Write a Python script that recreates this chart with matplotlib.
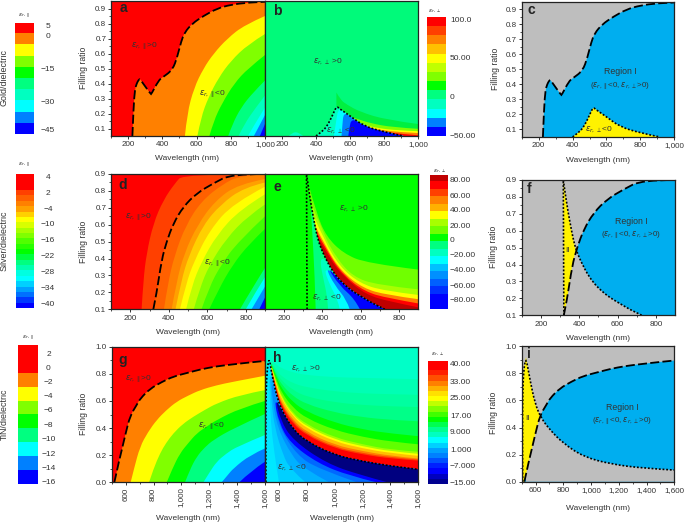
import numpy as np
import matplotlib
matplotlib.use("Agg")
import matplotlib.pyplot as plt
from matplotlib.patches import PathPatch
from matplotlib.path import Path
from matplotlib.ticker import FixedLocator, FixedFormatter

plt.rcParams["font.family"] = ["Liberation Sans", "DejaVu Sans"]

W, H = 685, 524
TEXT = "#333333"
GRAY = "#BEBEBE"
SKY = "#00AEEF"
LEMON = "#FFF200"

# ============================================
# DATA - GOLD
# ============================================

gold_zero_x = [225, 232, 240, 250, 262, 270, 278, 332, 336, 378, 400, 460, 488, 510, 530, 575, 640, 720, 800, 900, 1000]
gold_zero_y = [0.05, 0.25, 0.36, 0.40, 0.425, 0.43, 0.415, 0.33, 0.33, 0.42, 0.44, 0.49, 0.58, 0.68, 0.74, 0.80, 0.85, 0.90, 0.925, 0.94, 0.945]

gold_par_bands = [
    ([532, 545, 585, 640, 700, 780, 880, 1000], [0.05, 0.20, 0.37, 0.50, 0.60, 0.70, 0.79, 0.85]),
    ([605, 625, 670, 730, 800, 900, 1000], [0.05, 0.17, 0.31, 0.44, 0.55, 0.66, 0.73]),
    ([675, 700, 750, 820, 900, 1000], [0.05, 0.15, 0.27, 0.40, 0.50, 0.59]),
    ([785, 810, 860, 930, 1000], [0.05, 0.13, 0.24, 0.34, 0.42]),
    ([845, 880, 940, 1000], [0.05, 0.13, 0.23, 0.32]),
    ([900, 930, 1000], [0.05, 0.11, 0.24]),
    ([935, 1000], [0.05, 0.19]),
    ([970, 1000], [0.05, 0.13]),
]
gold_par_colors = ["#FF8000", "#FFFF00", "#80FF00", "#00FF00", "#00FF80", "#00FFC0", "#00FFFF", "#0080FF", "#0000FF"]

gold_perp_x = [400, 430, 460, 490, 515, 525, 535, 560, 600, 680, 795, 915]
gold_perp_y = [0.05, 0.075, 0.107, 0.17, 0.235, 0.245, 0.235, 0.215, 0.184, 0.118, 0.078, 0.05]

gold_perp_pos = [
    ([520, 545, 580, 660, 816, 1000], [0.34, 0.29, 0.26, 0.21, 0.157, 0.13]),
    ([575, 640, 720, 850, 1000], [0.19, 0.165, 0.135, 0.108, 0.098]),
    ([610, 680, 760, 880, 1000], [0.15, 0.125, 0.103, 0.087, 0.082]),
    ([625, 700, 780, 900, 1000], [0.135, 0.108, 0.09, 0.075, 0.07]),
    ([645, 715, 800, 900, 1000], [0.12, 0.095, 0.078, 0.064, 0.055]),
]
gold_perp_pos_colors = ["#00F040", "#80FF00", "#FFFF00", "#FF8000", "#FF0000"]

gold_perp_neg = [
    ([505, 515, 530], [0.05, 0.12, 0.235]),
    ([550, 555, 562], [0.05, 0.12, 0.205]),
    ([590, 595, 610], [0.05, 0.10, 0.17]),
]
gold_perp_neg_colors = ["#00FFFF", "#0080FF", "#0000FF"]

gold_bump_x = [240, 262, 298, 325]
gold_bump_y = [0.05, 0.075, 0.075, 0.05]

# ============================================
# DATA - SILVER
# ============================================

silver_zero_x = [320, 337, 363, 389, 424, 476, 545, 632, 727, 900]
silver_zero_y = [0.10, 0.195, 0.392, 0.50, 0.608, 0.707, 0.786, 0.845, 0.90, 0.90]
silver_cross_x = 382
silver_cross_y = 0.485

silver_par_bands = [
    ([259, 268, 285, 320, 372, 432, 476, 900], [0.10, 0.273, 0.431, 0.608, 0.746, 0.845, 0.90, 0.90]),
    (silver_zero_x, silver_zero_y),
    ([375, 395, 430, 490, 570, 680, 770, 900], [0.10, 0.25, 0.42, 0.60, 0.74, 0.84, 0.89, 0.90]),
    ([415, 440, 480, 550, 640, 760, 900], [0.10, 0.26, 0.43, 0.60, 0.74, 0.84, 0.87]),
    ([435, 465, 505, 580, 670, 790, 900], [0.10, 0.27, 0.42, 0.60, 0.72, 0.82, 0.85]),
    ([458, 490, 530, 614, 735, 900], [0.10, 0.25, 0.38, 0.57, 0.727, 0.825]),
    ([490, 520, 570, 650, 770, 900], [0.10, 0.24, 0.38, 0.54, 0.69, 0.78]),
    ([530, 560, 610, 700, 810, 900], [0.10, 0.22, 0.36, 0.52, 0.65, 0.72]),
    ([570, 610, 670, 760, 900], [0.10, 0.23, 0.36, 0.50, 0.65]),
    ([610, 660, 730, 820, 900], [0.10, 0.22, 0.36, 0.49, 0.575]),
    ([770, 820, 900], [0.10, 0.20, 0.345]),
    ([800, 850, 900], [0.10, 0.20, 0.29]),
    ([830, 900], [0.10, 0.235]),
    ([870, 900], [0.10, 0.17]),
]
silver_par_colors = ["#FF0000", "#FF4000", "#FF6000", "#FF8000", "#FFA000", "#FFD000", "#FFFF00", "#C0FF00",
                     "#80FF00", "#40FF00", "#00FF00", "#00FF80", "#00FFFF", "#0090FF", "#0000FF"]

silver_perp_x = [317, 334, 350, 369, 383, 404, 420, 440, 474, 515, 561, 600, 648, 690, 727]
silver_perp_y = [0.90, 0.766, 0.66, 0.55, 0.49, 0.431, 0.395, 0.35, 0.293, 0.245, 0.204, 0.178, 0.145, 0.12, 0.10]
silver_vert_x = [320, 317]
silver_vert_y = [0.10, 0.90]

silver_perp_pos = [
    ([331, 369, 421, 509, 631, 900], [0.825, 0.667, 0.53, 0.431, 0.372, 0.335]),
    ([343, 404, 474, 561, 683, 900], [0.727, 0.549, 0.402, 0.293, 0.244, 0.218]),
    ([352, 413, 491, 596, 718, 900], [0.658, 0.50, 0.352, 0.254, 0.21, 0.185]),
    ([360, 421, 500, 614, 736, 900], [0.60, 0.46, 0.323, 0.224, 0.185, 0.16]),
    ([369, 430, 509, 622, 745, 900], [0.56, 0.43, 0.303, 0.204, 0.165, 0.135]),
    ([375, 436, 518, 631, 755, 900], [0.53, 0.40, 0.285, 0.185, 0.145, 0.112]),
]
silver_perp_pos_colors = ["#70FF00", "#A8FF00", "#FFFF00", "#FF8000", "#FF0000", "#C00000"]

silver_perp_neg = [
    ([365, 360, 345, 338], [0.10, 0.30, 0.60, 0.73]),
    ([430, 425, 405, 385], [0.10, 0.18, 0.28, 0.40]),
    ([491, 480, 440, 405], [0.10, 0.16, 0.24, 0.35]),
    ([543, 525, 465, 415], [0.10, 0.16, 0.24, 0.35]),
    ([596, 570, 490, 425], [0.10, 0.16, 0.24, 0.35]),
]
silver_perp_neg_colors = ["#00FF80", "#00FFC0", "#00FFFF", "#0080FF", "#0000FF"]

# ============================================
# DATA - TIN
# ============================================

tin_zero_x = [519, 530, 548, 572, 600, 632, 679, 704, 775, 860, 942, 1040, 1134, 1250, 1373, 1500, 1600]
tin_zero_y = [0.0, 0.05, 0.135, 0.238, 0.36, 0.49, 0.57, 0.616, 0.69, 0.74, 0.78, 0.806, 0.832, 0.855, 0.87, 0.885, 0.895]

tin_par_bands = [
    ([636, 660, 703, 760, 823, 890, 966, 1050, 1134, 1250, 1373, 1600], [0.0, 0.10, 0.263, 0.37, 0.46, 0.53, 0.595, 0.64, 0.68, 0.715, 0.742, 0.786]),
    ([768, 800, 847, 890, 942, 1010, 1086, 1170, 1253, 1421, 1600], [0.0, 0.10, 0.214, 0.29, 0.361, 0.43, 0.484, 0.535, 0.582, 0.644, 0.68]),
    ([895, 935, 990, 1050, 1110, 1180, 1253, 1421, 1600], [0.0, 0.10, 0.214, 0.29, 0.361, 0.41, 0.46, 0.545, 0.60]),
    ([1026, 1060, 1110, 1170, 1229, 1373, 1600], [0.0, 0.09, 0.19, 0.26, 0.312, 0.398, 0.504]),
    ([1158, 1200, 1253, 1320, 1397, 1600], [0.0, 0.07, 0.152, 0.21, 0.263, 0.349]),
    ([1289, 1330, 1373, 1493, 1600], [0.0, 0.05, 0.103, 0.201, 0.25]),
    ([1416, 1493, 1600], [0.0, 0.079, 0.152]),
]
tin_par_colors = ["#FFFF00", "#80FF00", "#00FF00", "#00FF80", "#00FFFF", "#0080FF", "#0000FF"]

tin_perp_x = [507, 505, 507, 517, 531, 545, 560, 580, 620, 700, 800, 1000, 1200, 1400, 1600]
tin_perp_y = [0.0, 0.31, 0.68, 0.85, 0.92, 0.82, 0.75, 0.65, 0.53, 0.39, 0.30, 0.20, 0.155, 0.12, 0.095]

tin_cross_x = [531, 560, 596, 637, 704, 800, 944, 1136, 1377, 1600]
tin_cross_y = [0.92, 0.75, 0.579, 0.475, 0.382, 0.283, 0.185, 0.131, 0.099, 0.086]

tin_row_x = [545, 580, 620, 700, 800, 1000, 1200, 1400, 1600]
tin_perp_pos = [
    [0.90, 0.87, 0.84, 0.81, 0.79, 0.775, 0.77, 0.765, 0.76],
    [0.885, 0.83, 0.78, 0.73, 0.70, 0.67, 0.655, 0.65, 0.645],
    [0.88, 0.81, 0.75, 0.68, 0.63, 0.59, 0.57, 0.56, 0.555],
    [0.875, 0.795, 0.72, 0.635, 0.575, 0.515, 0.48, 0.46, 0.45],
    [0.87, 0.78, 0.69, 0.59, 0.52, 0.44, 0.39, 0.36, 0.34],
    [0.865, 0.76, 0.66, 0.55, 0.47, 0.385, 0.335, 0.30, 0.28],
    [0.86, 0.74, 0.635, 0.51, 0.425, 0.33, 0.28, 0.24, 0.225],
    [0.855, 0.73, 0.62, 0.495, 0.41, 0.315, 0.265, 0.228, 0.21],
    [0.85, 0.72, 0.61, 0.485, 0.395, 0.30, 0.25, 0.215, 0.195],
    [0.84, 0.70, 0.585, 0.46, 0.37, 0.275, 0.23, 0.195, 0.175],
    [0.835, 0.69, 0.57, 0.445, 0.355, 0.26, 0.215, 0.185, 0.168],
    [0.83, 0.68, 0.56, 0.43, 0.345, 0.25, 0.205, 0.175, 0.16],
]
tin_perp_pos_colors = ["#00FFB4", "#00FFA0", "#00FF88", "#00FF50", "#00FF00", "#60FF00", "#A0FF00", "#FFFF00",
                       "#FFC000", "#FF8000", "#FF4000", "#FF0000"]

tin_perp_neg = [
    ([600, 585, 570, 545, 535, 530], [0.0, 0.10, 0.20, 0.40, 0.60, 0.80]),
    ([790, 680, 630, 570, 545, 535], [0.0, 0.10, 0.20, 0.40, 0.60, 0.80]),
    ([960, 780, 690, 590, 555, 545], [0.0, 0.10, 0.20, 0.40, 0.60, 0.75]),
    ([1160, 880, 730, 605, 565], [0.0, 0.10, 0.20, 0.40, 0.60]),
    ([1300, 1100, 880, 680, 600, 565], [0.0, 0.05, 0.14, 0.29, 0.44, 0.62]),
    ([1380, 1181, 941, 700, 610, 575], [0.0, 0.054, 0.14, 0.31, 0.46, 0.62]),
]
tin_perp_neg_colors = ["#00D0FF", "#00B0FF", "#0090FF", "#0068FF", "#0000FF", "#000080"]

# ============================================
# DATA - COLOUR BARS
# ============================================

bar_a_colors = ["#FF0000", "#FF8000", "#FFFF00", "#80FF00", "#00FF00", "#00FF80", "#00FFC0", "#00FFFF", "#0080FF", "#0000FF"]
bar_a_labels = ["5", "0", "\u221215", "\u221230", "\u221245"]

bar_b_colors = ["#FF0000", "#FF4000", "#FF8000", "#FFC000", "#FFFF00", "#C0FF00", "#80FF00", "#00FF00", "#00FF80",
                "#00FFC0", "#00FFFF", "#0080FF", "#0000FF"]
bar_b_labels = ["100.0", "50.00", "0", "\u221250.00"]

bar_d_colors = ["#FF0000", "#FF0000", "#FF0000", "#FF4000", "#FF6000", "#FF8000", "#FFA000", "#FFD000", "#FFFF00",
                "#D8FF00", "#A8FF00", "#80FF00", "#50FF00", "#28FF00", "#00FF00", "#00FF40", "#00FF80", "#00FFB0",
                "#00FFE0", "#00FFFF", "#00D0FF", "#00A0FF", "#0070FF", "#0038FF", "#0000FF"]
bar_d_labels = ["4", "2", "\u22124", "\u221210", "\u221216", "\u221222", "\u221228", "\u221234", "\u221240"]

bar_e_colors = ["#C00000", "#FF0000", "#FF4000", "#FF8000", "#FFB000", "#FFFF00", "#A8FF00", "#70FF00", "#00FF00",
                "#00FF80", "#00FFC0", "#00FFFF", "#00C0FF", "#0090FF", "#0060FF", "#0030FF", "#0000FF", "#0000FF"]
bar_e_labels = ["80.00", "60.00", "40.00", "20.00", "0", "\u221220.00", "\u221240.00", "\u221260.00", "\u221280.00"]

bar_g_colors = ["#FF0000", "#FF0000", "#FF8000", "#FFFF00", "#80FF00", "#00FF00", "#00FF80", "#00FFFF", "#0080FF", "#0000FF"]
bar_g_labels = ["2", "0", "\u22122", "\u22124", "\u22126", "\u22128", "\u221210", "\u221212", "\u221214", "\u221216"]

bar_h_colors = ["#FF0000", "#FF0000", "#FF2000", "#FF5000", "#FF8000", "#FFB000", "#FFE000", "#FFFF00", "#C0FF00",
                "#80FF00", "#40FF00", "#00FF00", "#00FF50", "#00FF90", "#00FFC0", "#00FFFF", "#00D0FF", "#00A0FF",
                "#0080FF", "#0050FF", "#0020FF", "#0000FF", "#0000C0", "#000090"]
bar_h_labels = ["40.00", "33.00", "25.00", "17.00", "9.000", "1.000", "\u22127.000", "\u221215.00"]

# ============================================
# LABELS
# ============================================

PAR = r"$\varepsilon_{r,\parallel}$"
PERP = r"$\varepsilon_{r,\perp}$"
REGION_ONE = "Region I"
REGION_ONE_DEF = r"($\varepsilon_{r,\parallel}$<0, $\varepsilon_{r,\perp}$>0)"
gold_ticks = [200, 400, 600, 800, 1000]
gold_y_ticks = [0.1, 0.2, 0.3, 0.4, 0.5, 0.6, 0.7, 0.8, 0.9]
silver_ticks = [200, 400, 600, 800]
silver_y_ticks = [0.1, 0.2, 0.3, 0.4, 0.5, 0.6, 0.7, 0.8, 0.9]
tin_ticks = [600, 800, 1000, 1200, 1400, 1600]
tin_y_ticks = [0.0, 0.2, 0.4, 0.6, 0.8, 1.0]

fig = plt.figure(figsize=(W / 100, H / 100), dpi=100, facecolor="white")


# ============================================
# HELPERS
# ============================================

# Ekrandaki piksel kutusuna eksen ekler.
def px_axes(left, top, right, bottom):
    return fig.add_axes([left / W, 1 - bottom / H, (right - left) / W, (bottom - top) / H])


def px_text(x, y, s, size=6.0, ha="center", **kw):
    fig.text(x / W, 1 - y / H, s, fontsize=size, ha=ha, va="center", color=kw.pop("color", TEXT), **kw)


# Noktalari kontrol noktasi olarak kullanan yumusak Bezier path kodlari.
def curve_segments(xs, ys):
    verts = [(xs[0], ys[0])]
    codes = [Path.MOVETO]
    for i in range(1, len(xs) - 1):
        verts.append((xs[i], ys[i]))
        codes.append(Path.CURVE3)
        if i < len(xs) - 2:
            verts.append(((xs[i] + xs[i + 1]) / 2, (ys[i] + ys[i + 1]) / 2))
        else:
            verts.append((xs[i + 1], ys[i + 1]))
        codes.append(Path.CURVE3)
    if len(xs) == 2:
        verts.append((xs[1], ys[1]))
        codes.append(Path.LINETO)
    return verts, codes


# Egrinin altini eksenin tabanina kadar boyar.
def fill_below(ax, xs, ys, color):
    base = ax.get_ylim()[0]
    verts, codes = curve_segments(xs, ys)
    codes[0] = Path.LINETO
    verts = [(xs[0], base)] + verts + [(xs[-1], base), (xs[0], base)]
    codes = [Path.MOVETO] + codes + [Path.LINETO, Path.CLOSEPOLY]
    ax.add_patch(PathPatch(Path(verts, codes), facecolor=color, edgecolor="none", lw=0))


# Sol siniri alip egrinin kalan kismiyla birlestirir.
def join_curve(left_x, left_y, curve_x, curve_y):
    cx, cy = np.array(curve_x), np.array(curve_y)
    keep = (cx > left_x[-1]) & (cy < left_y[-1])
    return list(left_x) + list(cx[keep]), list(left_y) + list(cy[keep])


def line_patch(ax, xs, ys, dash, lw):
    verts, codes = curve_segments(xs, ys)
    ax.add_patch(PathPatch(Path(verts, codes), facecolor="none", edgecolor="black", lw=lw,
                           linestyle=(0, dash), zorder=5, capstyle="butt"))


def dashed(ax, xs, ys):
    line_patch(ax, xs, ys, (5, 1.8), 1.3)


def dotted(ax, xs, ys):
    line_patch(ax, xs, ys, (1.1, 1.1), 1.2)


def setup_panel(box, xlim, ylim, xticks, yticks, show_y=True, rotate=False, background="white"):
    ax = px_axes(*box)
    ax.set_xlim(*xlim)
    ax.set_ylim(*ylim)
    ax.set_facecolor(background)
    ax.xaxis.set_major_locator(FixedLocator(xticks))
    ax.xaxis.set_major_formatter(FixedFormatter([f"{t:,}" for t in xticks]))
    minor = [(a + b) / 2 for a, b in zip(xticks, xticks[1:])] + [xticks[0] - (xticks[1] - xticks[0]) / 2]
    ax.set_xticks(minor, minor=True)
    ax.tick_params(axis="x", which="major", length=2.2, width=0.7, pad=1.6, labelsize=5.8, labelcolor=TEXT,
                   color=TEXT, labelrotation=90 if rotate else 0)
    ax.tick_params(axis="x", which="minor", length=1.3, width=0.6, color=TEXT)
    if show_y:
        ax.set_yticks(yticks)
        ax.set_yticklabels([f"{t:.1f}" for t in yticks])
        step = yticks[1] - yticks[0]
        ax.set_yticks([t + step / 2 for t in yticks[:-1]], minor=True)
        ax.tick_params(axis="y", which="major", length=2.2, width=0.7, pad=1.2, labelsize=5.8, labelcolor=TEXT, color=TEXT)
        ax.tick_params(axis="y", which="minor", length=1.3, width=0.6, color=TEXT)
    else:
        ax.set_yticks([])
    for sp in ax.spines.values():
        sp.set_linewidth(0.9)
        sp.set_color("#222222")
        sp.set_zorder(6)
    return ax


def colour_bar(box, colors, labels, ys, x, ha, title, title_xy):
    ax = px_axes(*box)
    rgb = np.array([matplotlib.colors.to_rgb(c) for c in colors])[:, None, :]
    ax.imshow(rgb, aspect="auto", interpolation="nearest")
    ax.axis("off")
    for label, y in zip(labels, ys):
        px_text(x, y, label, ha=ha)
    px_text(title_xy[0], title_xy[1], title, size=4.6)


# ============================================
# COLOUR BARS
# ============================================

colour_bar((15, 22.7, 33.3, 134), bar_a_colors, bar_a_labels, [26.7, 36, 69.3, 102.7, 130.3], 48, "center", PAR, (24, 16))
colour_bar((427, 17.3, 446, 136), bar_b_colors, bar_b_labels, [21, 59, 97.3, 136], 450, "left", PERP, (435, 11))
colour_bar((15.5, 174, 32.7, 307.7), bar_d_colors, bar_d_labels,
           [177.3, 193.3, 209, 225, 240.7, 256.7, 272.7, 288.3, 304], 48, "center", PAR, (24, 165))
colour_bar((429.7, 174.7, 447, 309.3), bar_e_colors, bar_e_labels,
           [180.7, 196, 210.7, 226, 240.7, 256, 271, 286, 301], 450, "left", PERP, (440, 171))
colour_bar((18.3, 345.3, 38.3, 484), bar_g_colors, bar_g_labels,
           [354, 368.7, 382.7, 396.7, 411, 425.7, 439.3, 454, 468, 482.3], 48.5, "center", PAR, (28, 338))
colour_bar((427.7, 360.7, 447.3, 484), bar_h_colors, bar_h_labels,
           [365, 382.3, 399, 416, 433, 450, 466.7, 483.3], 450, "left", PERP, (438, 354))

# ============================================
# PANEL A
# ============================================

ax = setup_panel((111, 1, 265, 136), (100, 1000), (0.05, 0.95), gold_ticks, gold_y_ticks, background="#FF0000")
fill_below(ax, gold_zero_x, gold_zero_y, gold_par_colors[0])
for (xs, ys), color in zip(gold_par_bands, gold_par_colors[1:]):
    fill_below(ax, xs, ys, color)
dashed(ax, gold_zero_x, gold_zero_y)

# ============================================
# PANEL B
# ============================================

ax = setup_panel((265, 1, 418, 136), (100, 1000), (0.05, 0.95), gold_ticks, gold_y_ticks, show_y=False, background="#00FA7A")
for (xs, ys), color in zip(gold_perp_pos, gold_perp_pos_colors):
    fill_below(ax, xs, ys, color)
fill_below(ax, gold_perp_x, gold_perp_y, "#00FFC0")
fill_below(ax, gold_bump_x, gold_bump_y, "#00FFC0")
for (xs, ys), color in zip(gold_perp_neg, gold_perp_neg_colors):
    jx, jy = join_curve(xs, ys, gold_perp_x, gold_perp_y)
    fill_below(ax, jx, jy, color)
dotted(ax, gold_perp_x, gold_perp_y)

# ============================================
# PANEL C
# ============================================

ax = setup_panel((521.7, 1.7, 674.3, 137), (100, 1000), (0.05, 0.95), gold_ticks, gold_y_ticks, background=GRAY)
fill_below(ax, gold_zero_x, gold_zero_y, SKY)
fill_below(ax, gold_perp_x, gold_perp_y, LEMON)
dashed(ax, gold_zero_x, gold_zero_y)
dotted(ax, gold_perp_x, gold_perp_y)

# ============================================
# PANEL D
# ============================================

ax = setup_panel((111, 174, 265, 309.3), (100, 900), (0.1, 0.9), silver_ticks, silver_y_ticks, background=silver_par_colors[0])
for (xs, ys), color in zip(silver_par_bands, silver_par_colors[1:]):
    fill_below(ax, xs, ys, color)
dashed(ax, silver_zero_x, silver_zero_y)

# ============================================
# PANEL E
# ============================================

ax = setup_panel((265, 174, 418, 309.3), (100, 900), (0.1, 0.9), silver_ticks, silver_y_ticks, show_y=False, background="#00FF00")
for (xs, ys), color in zip(silver_perp_pos, silver_perp_pos_colors):
    fill_below(ax, xs, ys, color)
fill_below(ax, silver_perp_x, silver_perp_y, "#00FF00")
for (xs, ys), color in zip(silver_perp_neg, silver_perp_neg_colors):
    jx, jy = join_curve(xs, ys, silver_perp_x, silver_perp_y)
    fill_below(ax, jx, jy, color)
dotted(ax, silver_perp_x, silver_perp_y)
dotted(ax, silver_vert_x, silver_vert_y)

# ============================================
# PANEL F
# ============================================

ax = setup_panel((521.7, 180, 675, 315.3), (100, 900), (0.1, 0.9), silver_ticks, silver_y_ticks, background=GRAY)
fill_below(ax, silver_zero_x, silver_zero_y, SKY)
fill_below(ax, silver_perp_x, silver_perp_y, GRAY)
yellow_x = silver_perp_x[:4] + [silver_cross_x] + silver_zero_x[:3][::-1]
yellow_y = silver_perp_y[:4] + [silver_cross_y] + silver_zero_y[:3][::-1]
ax.fill(yellow_x, yellow_y, color=LEMON, lw=0)
dashed(ax, silver_zero_x, silver_zero_y)
dotted(ax, silver_perp_x, silver_perp_y)
dotted(ax, silver_vert_x, silver_vert_y)

# ============================================
# PANEL G
# ============================================

ax = setup_panel((111.7, 346.7, 265, 482.3), (500, 1600), (0, 1), tin_ticks, tin_y_ticks, rotate=True, background="#FF0000")
fill_below(ax, tin_zero_x, tin_zero_y, "#FF8000")
for (xs, ys), color in zip(tin_par_bands, tin_par_colors):
    fill_below(ax, xs, ys, color)
dashed(ax, tin_zero_x, tin_zero_y)

# ============================================
# PANEL H
# ============================================

ax = setup_panel((265, 346.7, 418.3, 482.3), (500, 1600), (0, 1), tin_ticks, tin_y_ticks, show_y=False, rotate=True, background="#00FFC8")
for row, color in zip(tin_perp_pos, tin_perp_pos_colors):
    fill_below(ax, tin_row_x, row, color)
fill_below(ax, tin_perp_x, tin_perp_y, "#00E8FF")
for (xs, ys), color in zip(tin_perp_neg, tin_perp_neg_colors):
    jx, jy = join_curve(xs, ys, tin_perp_x, tin_perp_y)
    fill_below(ax, jx, jy, color)
dotted(ax, tin_perp_x, tin_perp_y)

# ============================================
# PANEL I
# ============================================

ax = setup_panel((521.7, 346.3, 674.3, 481.7), (500, 1600), (0, 1), tin_ticks, tin_y_ticks, background=GRAY)
fill_below(ax, tin_zero_x, tin_zero_y, SKY)
fill_below(ax, tin_cross_x, tin_cross_y, GRAY)
left_x = tin_perp_x[:5] + tin_cross_x[1:4]
left_y = tin_perp_y[:5] + tin_cross_y[1:4]
ax.fill(left_x + [tin_zero_x[5]] + tin_zero_x[:5][::-1], left_y + [tin_zero_y[5]] + tin_zero_y[:5][::-1], color=LEMON, lw=0)
dashed(ax, tin_zero_x, tin_zero_y)
dotted(ax, tin_perp_x[:5] + tin_cross_x[1:], tin_perp_y[:5] + tin_cross_y[1:])

# ============================================
# TEXT
# ============================================

for letter, x, y in [("a", 123, 8), ("b", 277, 11), ("c", 531, 10), ("d", 123, 185), ("e", 277, 187),
                     ("f", 529, 189), ("g", 123, 360), ("h", 277, 358), ("i", 529, 354)]:
    px_text(x, y, letter, size=10, weight="bold", color="#222222")

for x, y in [(187, 158), (341, 158), (598, 161), (188, 333), (341, 333), (598, 338), (188, 519), (342, 519), (598, 508)]:
    px_text(x, y, "Wavelength (nm)")

for x, y in [(84, 68), (495, 69), (84, 242), (493, 247), (84, 414), (493, 413)]:
    px_text(x, y, "Filling ratio", size=6.2, rotation=90)

px_text(4.5, 78, "Gold/dielectric", size=6.4, rotation=90)
px_text(4.5, 241, "Silver/dielectric", size=6.4, rotation=90)
px_text(4.5, 414, "TiN/dielectric", size=6.4, rotation=90)

for x, y, s in [(144, 46, PAR + ">0"), (212, 94, PAR + "<0"), (328, 62, PERP + " >0"), (341, 131, PERP + " <0"),
                (599, 130, PERP + "<0"), (138, 217, PAR + ">0"), (217, 263, PAR + "<0"), (354, 209, PERP + " >0"),
                (327, 298, PERP + " <0"), (138, 379, PAR + ">0"), (211, 426, PAR + "<0"), (306, 369, PERP + " >0"),
                (292, 468, PERP + " <0")]:
    px_text(x, y, s, size=6.0)

for x, y1, y2 in [(620, 72, 86), (631, 221, 235), (622, 407, 421)]:
    px_text(x, y1, REGION_ONE, size=6.3)
    px_text(x, y2, REGION_ONE_DEF, size=5.8)

px_text(567, 250, "II", size=6.0)
px_text(528, 418, "II", size=6.0)

fig.savefig("out.png", dpi=100, facecolor="white")
